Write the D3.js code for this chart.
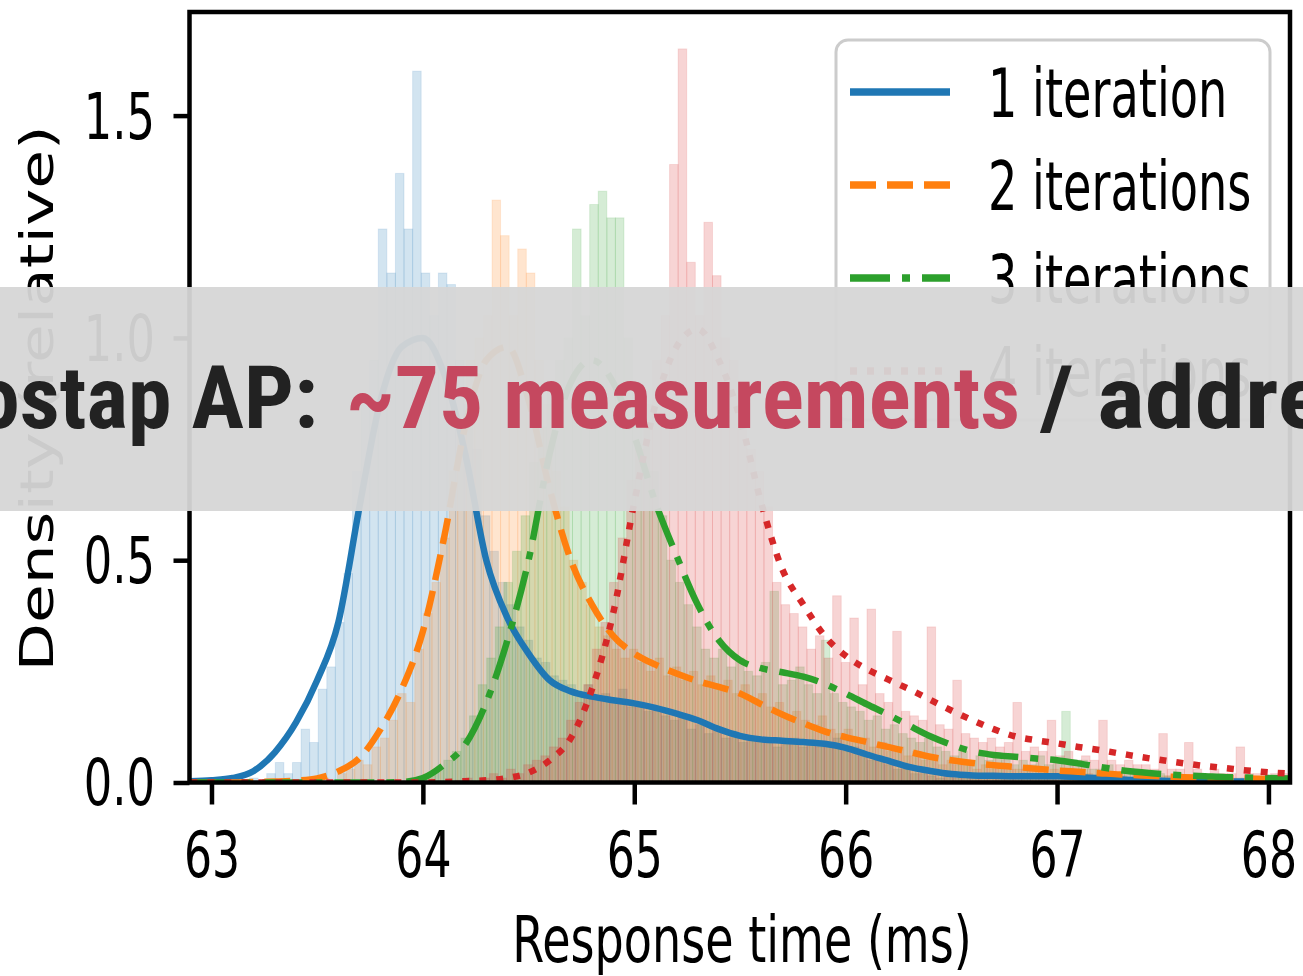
<!DOCTYPE html>
<html>
<head>
<meta charset="utf-8">
<script src="https://cdn.jsdelivr.net/npm/d3@7"></script>
<style>
  html, body { margin: 0; padding: 0; background: #ffffff; }
  #chart { width: 1303px; height: 976px; overflow: hidden; }
</style>
</head>
<body>
<div id="chart"></div>
<script>
// Series (una por número de iteraciones)
const seriesNames = ['1 iteration', '2 iterations', '3 iterations', '4 iterations'];
const seriesColors = ['#1f77b4', '#ff7f0e', '#2ca02c', '#d62728'];
const seriesDash = [null, '26,11', '40,12,8,12', '7,10'];

// Ticks
const xTicks = [63, 64, 65, 66, 67, 68];
const yTicks = [0.0, 0.5, 1.0, 1.5];

// Histogramas (densidad por bin, ancho de bin en ms)
const binWidth = 0.0406;
const histStarts = [63.18, 63.515, 63.977, 64.152];
const hist1 = [0.01, 0, 0.02, 0.045, 0.02, 0.045, 0.12, 0.09, 0.21, 0.26,
  0.36, 0.47, 0.70, 0.85, 0.95, 1.245, 1.146, 1.37, 1.245, 1.60,
  1.146, 1.05, 1.146, 1.12, 0.95, 0.85, 0.75, 0.6, 0.52, 0.45,
  0.40, 0.35, 0.32, 0.28, 0.27, 0.24, 0.23, 0.22, 0.2, 0.22,
  0.19, 0.2, 0.18, 0.21, 0.17, 0.18, 0.16, 0.17, 0.15, 0.14,
  0.15, 0.12, 0.13, 0.11, 0.12, 0.1, 0.11, 0.09, 0.1, 0.09,
  0.1, 0.08, 0.09, 0.1, 0.08, 0.09, 0.08, 0.09, 0.1, 0.07,
  0.08, 0.06, 0.05, 0.05, 0.04, 0.03, 0.03, 0.02, 0.02, 0.015,
  0.01, 0.02, 0.01, 0.01, 0.015, 0.01, 0.01, 0.02, 0.01, 0.01,
  0.01, 0.015, 0.01, 0.01, 0.005, 0.01, 0.005, 0.01, 0.005, 0.005];
const hist2 = [0.01, 0, 0.02, 0.03, 0.05, 0.04, 0.08, 0.1, 0.14, 0.2,
  0.18, 0.3, 0.38, 0.45, 0.55, 0.7, 0.8, 0.95, 1.0, 1.05,
  1.31, 1.23, 1.05, 1.2, 1.146, 0.95, 0.85, 0.7, 0.62, 0.5,
  0.45, 0.4, 0.35, 0.33, 0.3, 0.28, 0.3, 0.27, 0.25, 0.28,
  0.24, 0.26, 0.23, 0.25, 0.22, 0.24, 0.21, 0.23, 0.2, 0.22,
  0.19, 0.2, 0.17, 0.18, 0.15, 0.16, 0.14, 0.13, 0.15, 0.12,
  0.11, 0.12, 0.09, 0.1, 0.08, 0.09, 0.07, 0.08, 0.06, 0.07,
  0.05, 0.06, 0.04, 0.05, 0.04, 0.04, 0.03, 0.04, 0.03, 0.035,
  0.03, 0.03, 0.025, 0.03, 0.02, 0.03, 0.02, 0.025, 0.02, 0.02,
  0.015, 0.02, 0.01, 0.015, 0.01, 0.02, 0.01, 0.01, 0.015, 0.01,
  0.01, 0.01, 0.005, 0.01, 0.005, 0.01, 0.005, 0.005, 0.005, 0.005,
  0.005, 0.005, 0.005, 0.005];
const hist3 = [0.01, 0.02, 0.03, 0.05, 0.07, 0.1, 0.15, 0.22, 0.28, 0.35,
  0.45, 0.52, 0.6, 0.72, 0.8, 0.88, 0.95, 1.0, 1.245, 1.05,
  1.3, 1.33, 1.27, 1.27, 1.0, 0.9, 0.8, 0.7, 0.6, 0.5,
  0.45, 0.4, 0.35, 0.3, 0.28, 0.3, 0.26, 0.28, 0.25, 0.24,
  0.27, 0.43, 0.22, 0.23, 0.26, 0.22, 0.2, 0.32, 0.2, 0.18,
  0.17, 0.16, 0.14, 0.15, 0.12, 0.13, 0.11, 0.1, 0.09, 0.1,
  0.08, 0.07, 0.06, 0.07, 0.05, 0.06, 0.05, 0.06, 0.05, 0.04,
  0.05, 0.04, 0.06, 0.04, 0.05, 0.16, 0.04, 0.05, 0.03, 0.03,
  0.04, 0.02, 0.03, 0.02, 0.025, 0.02, 0.02, 0.015, 0.02, 0.01,
  0.015, 0.01, 0.01, 0.01, 0.01, 0.01, 0.01, 0.01, 0.01, 0.01];
const hist4 = [0.005, 0.01, 0, 0.01, 0.02, 0.01, 0.03, 0.02, 0.04, 0.05,
  0.06, 0.08, 0.1, 0.14, 0.18, 0.22, 0.3, 0.36, 0.45, 0.55,
  0.68, 0.75, 0.85, 0.95, 1.05, 1.39, 1.65, 1.17, 1.05, 1.26,
  1.14, 1.0, 0.95, 0.85, 0.75, 0.7, 0.62, 0.45, 0.4, 0.38,
  0.35, 0.3, 0.33, 0.28, 0.42, 0.27, 0.37, 0.22, 0.39, 0.2,
  0.18, 0.34, 0.16, 0.15, 0.14, 0.35, 0.13, 0.12, 0.23, 0.11,
  0.1, 0.09, 0.1, 0.08, 0.09, 0.18, 0.07, 0.08, 0.07, 0.14,
  0.06, 0.07, 0.05, 0.06, 0.05, 0.14, 0.05, 0.04, 0.05, 0.04,
  0.04, 0.03, 0.11, 0.03, 0.03, 0.09, 0.03, 0.02, 0.03, 0.02,
  0.02, 0.08, 0.02, 0.02, 0.015, 0.02, 0.02];

// Curvas KDE (tiempo de respuesta en ms y densidad)
const kdeX = [62.9, 63.0, 63.1, 63.2, 63.3, 63.4, 63.5, 63.6, 63.7, 63.8,
  63.9, 64.0, 64.1, 64.2, 64.3, 64.4, 64.5, 64.6, 64.7, 64.8,
  64.9, 65.0, 65.1, 65.2, 65.3, 65.4, 65.5, 65.6, 65.7, 65.8,
  65.9, 66.0, 66.1, 66.2, 66.3, 66.4, 66.5, 66.6, 66.7, 66.8,
  66.9, 67.0, 67.1, 67.2, 67.3, 67.4, 67.5, 67.6, 67.7, 67.8,
  67.9, 68.0, 68.1];
const kde1 = [0.003, 0.005, 0.01, 0.026, 0.068, 0.135, 0.23, 0.36, 0.62, 0.86,
  0.98, 1.0, 0.92, 0.74, 0.5, 0.37, 0.29, 0.23, 0.205, 0.193,
  0.185, 0.178, 0.168, 0.155, 0.14, 0.12, 0.105, 0.097, 0.094, 0.091,
  0.087, 0.078, 0.063, 0.049, 0.035, 0.026, 0.019, 0.016, 0.015, 0.014,
  0.014, 0.014, 0.012, 0.01, 0.007, 0.005, 0.004, 0.003, 0.003, 0.002,
  0.002, 0.002, 0.002];
const kde2 = [0, 0, 0, 0.001, 0.002, 0.004, 0.009, 0.025, 0.055, 0.12,
  0.21, 0.34, 0.55, 0.8, 0.95, 0.98, 0.86, 0.66, 0.5, 0.4,
  0.33, 0.29, 0.265, 0.245, 0.228, 0.215, 0.2, 0.176, 0.153, 0.133,
  0.115, 0.102, 0.091, 0.08, 0.069, 0.058, 0.05, 0.044, 0.039, 0.035,
  0.031, 0.027, 0.024, 0.021, 0.018, 0.016, 0.014, 0.012, 0.011, 0.01,
  0.009, 0.008, 0.007];
const kde3 = [0, 0, 0, 0, 0, 0, 0, 0, 0, 0,
  0.001, 0.01, 0.04, 0.085, 0.18, 0.32, 0.5, 0.74, 0.9, 0.95,
  0.9, 0.78, 0.63, 0.51, 0.4, 0.32, 0.275, 0.257, 0.248, 0.238,
  0.222, 0.2, 0.176, 0.153, 0.128, 0.104, 0.085, 0.07, 0.062, 0.058,
  0.054, 0.05, 0.043, 0.035, 0.028, 0.023, 0.019, 0.016, 0.014, 0.012,
  0.011, 0.01, 0.009];
const kde4 = [0, 0, 0, 0, 0, 0, 0, 0, 0, 0,
  0, 0, 0.001, 0.003, 0.005, 0.01, 0.022, 0.05, 0.1, 0.21,
  0.38, 0.63, 0.85, 0.98, 1.02, 0.95, 0.82, 0.63, 0.48, 0.4,
  0.33, 0.285, 0.255, 0.232, 0.21, 0.186, 0.162, 0.14, 0.12, 0.104,
  0.095, 0.088, 0.08, 0.073, 0.065, 0.057, 0.05, 0.043, 0.037, 0.032,
  0.027, 0.023, 0.02];

const histValues = [hist1, hist2, hist3, hist4];
const kdeValues = [kde1, kde2, kde3, kde4];

// Dimensiones
const width = 1303;
const height = 976;
const plot = { left: 189.5, right: 1290, top: 12, bottom: 782.5 };
const fontMain = 'DejaVu Sans, Liberation Sans, sans-serif';

const svg = d3.select('#chart').append('svg')
    .attr('width', width)
    .attr('height', height)
    .style('display', 'block');

svg.append('rect')
    .attr('width', width)
    .attr('height', height)
    .attr('fill', '#ffffff');

// Escalas
const x = d3.scaleLinear().domain([62.896, 68.102]).range([plot.left, plot.right]);
const y = d3.scaleLinear().domain([0, 1.733]).range([plot.bottom, plot.top]);

svg.append('clipPath')
    .attr('id', 'plot-clip')
    .append('rect')
    .attr('x', plot.left)
    .attr('y', plot.top)
    .attr('width', plot.right - plot.left)
    .attr('height', plot.bottom - plot.top);

const area = svg.append('g').attr('clip-path', 'url(#plot-clip)');

const line = d3.line()
    .x(d => x(d[0]))
    .y(d => y(d[1]))
    .curve(d3.curveMonotoneX);

// Histogramas (todos primero, las curvas quedan encima)
seriesNames.forEach((name, i) => {
    const bins = histValues[i]
        .map((v, k) => ({
            x0: histStarts[i] + k * binWidth,
            x1: histStarts[i] + (k + 1) * binWidth,
            v: v
        }))
        .filter(b => b.v > 0);

    area.append('g')
        .selectAll('rect')
        .data(bins)
        .enter()
        .append('rect')
        .attr('x', d => x(d.x0))
        .attr('width', d => x(d.x1) - x(d.x0))
        .attr('y', d => y(d.v))
        .attr('height', d => y(0) - y(d.v))
        .attr('fill', seriesColors[i])
        .attr('fill-opacity', 0.2)
        .attr('stroke', seriesColors[i])
        .attr('stroke-opacity', 0.12)
        .attr('stroke-width', 1);
});

// Curvas KDE
seriesNames.forEach((name, i) => {
    const pts = kdeX.map((xv, k) => [xv, kdeValues[i][k]]);
    area.append('path')
        .datum(pts)
        .attr('d', line)
        .attr('fill', 'none')
        .attr('stroke', seriesColors[i])
        .attr('stroke-width', 6.5)
        .attr('stroke-dasharray', seriesDash[i])
        .attr('stroke-linejoin', 'round');
});

// Ejes
const xAxis = svg.append('g')
    .attr('transform', `translate(0,${plot.bottom})`)
    .call(d3.axisBottom(x).tickValues(xTicks).tickSize(22).tickFormat(d3.format('d')));

xAxis.select('.domain').remove();
xAxis.selectAll('.tick line').attr('stroke', '#000').attr('stroke-width', 4.5);
xAxis.selectAll('.tick text')
    .attr('y', 94.5)
    .attr('dy', 0)
    .attr('transform', 'scale(0.69,1)')
    .style('font-family', fontMain)
    .style('font-size', '64px')
    .style('fill', '#000');

const yAxis = svg.append('g')
    .attr('transform', `translate(${plot.left},0)`)
    .call(d3.axisLeft(y).tickValues(yTicks).tickSize(16).tickFormat(d3.format('.1f')));

yAxis.select('.domain').remove();
yAxis.selectAll('.tick line').attr('stroke', '#000').attr('stroke-width', 4.5);
yAxis.selectAll('.tick text')
    .attr('x', 0)
    .attr('dy', '0.35em')
    .attr('text-anchor', 'end')
    .attr('transform', 'translate(-34.5,0) scale(0.7,1)')
    .style('font-family', fontMain)
    .style('font-size', '64px')
    .style('fill', '#000');

// Marco
svg.append('rect')
    .attr('x', plot.left)
    .attr('y', plot.top)
    .attr('width', plot.right - plot.left)
    .attr('height', plot.bottom - plot.top)
    .attr('fill', 'none')
    .attr('stroke', '#000')
    .attr('stroke-width', 4.5);

// Etiquetas de ejes
svg.append('text')
    .attr('transform', 'translate(742,962) scale(0.72,1)')
    .attr('text-anchor', 'middle')
    .style('font-family', fontMain)
    .style('font-size', '64px')
    .style('fill', '#000')
    .text('Response time (ms)');

svg.append('text')
    .attr('transform', 'translate(53,398.5) scale(0.74,1) rotate(-90)')
    .attr('text-anchor', 'middle')
    .style('font-family', fontMain)
    .style('font-size', '63px')
    .style('fill', '#000')
    .text('Density (relative)');

// Leyenda
const legend = svg.append('g');

legend.append('rect')
    .attr('x', 836)
    .attr('y', 40)
    .attr('width', 434)
    .attr('height', 380)
    .attr('rx', 12)
    .attr('fill', '#ffffff')
    .attr('fill-opacity', 0.8)
    .attr('stroke', '#cccccc')
    .attr('stroke-width', 3);

seriesNames.forEach((name, i) => {
    const cy = 92 + i * 93;
    legend.append('line')
        .attr('x1', 850)
        .attr('x2', 950)
        .attr('y1', cy)
        .attr('y2', cy)
        .attr('stroke', seriesColors[i])
        .attr('stroke-width', 7.5)
        .attr('stroke-dasharray', seriesDash[i]);

    legend.append('text')
        .attr('transform', `translate(988,${cy + 25}) scale(0.69,1)`)
        .style('font-family', fontMain)
        .style('font-size', '67px')
        .style('fill', '#000')
        .text(name);
});

// Banda superpuesta con el título
svg.append('rect')
    .attr('x', 0)
    .attr('y', 287)
    .attr('width', width)
    .attr('height', 224)
    .attr('fill', 'rgb(214,214,214)')
    .attr('fill-opacity', 0.95);

const bannerFont = '"Liberation Sans Narrow", "Roboto Condensed", "Liberation Sans", Arial, sans-serif';
const bannerParts = [
    { text: 'ostap AP:', x0: -24, x1: 318, color: '#222222' },
    { text: '~75 measurements', x0: 346, x1: 1020, color: '#c5485f' },
    { text: '/ addre', x0: 1040, x1: 1326, color: '#222222' }
];

svg.append('g')
    .selectAll('text')
    .data(bannerParts)
    .enter()
    .append('text')
    .attr('x', d => d.x0)
    .attr('y', 428)
    .attr('textLength', d => d.x1 - d.x0)
    .attr('lengthAdjust', 'spacingAndGlyphs')
    .style('font-family', bannerFont)
    .style('font-weight', 'bold')
    .style('font-size', '88px')
    .style('fill', d => d.color)
    .text(d => d.text);
</script>
</body>
</html>
